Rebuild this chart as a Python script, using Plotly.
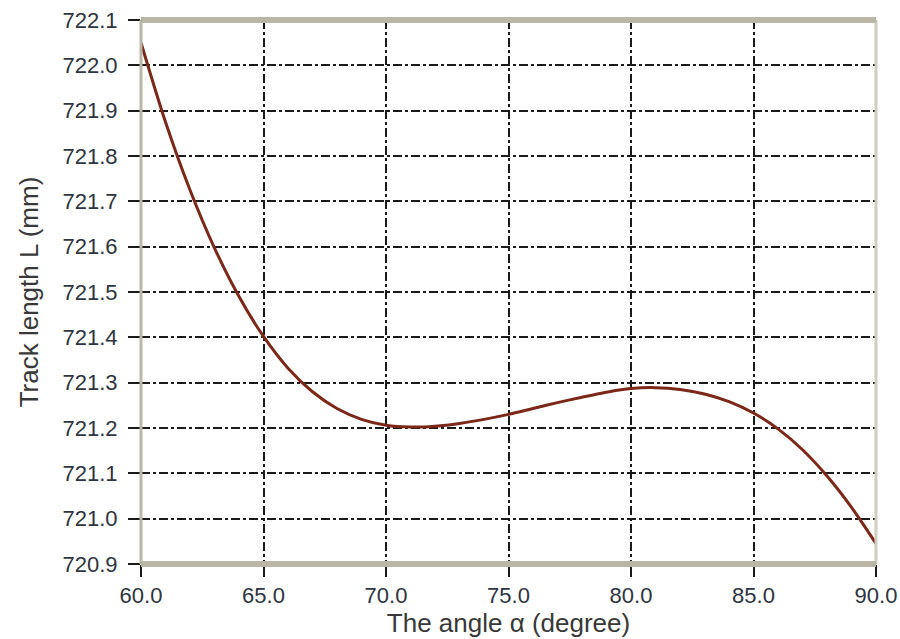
import plotly.graph_objects as go

angle = [60, 61, 62, 63, 64, 65, 66, 67, 68, 69, 70, 71, 72, 73, 74, 75,
         76, 77, 78, 79, 80, 81, 82, 83, 84, 85, 86, 87, 88, 89, 90]
track_length = [722.05, 721.875, 721.725, 721.597, 721.49, 721.402, 721.332, 721.28,
                721.243, 721.219, 721.206, 721.202, 721.204, 721.21, 721.219, 721.23,
                721.243, 721.256, 721.268, 721.279, 721.287, 721.289, 721.285, 721.275,
                721.258, 721.233, 721.198, 721.152, 721.094, 721.025, 720.945]

x_ticks = [60, 65, 70, 75, 80, 85, 90]
y_ticks = [720.9, 721.0, 721.1, 721.2, 721.3, 721.4, 721.5, 721.6, 721.7, 721.8, 721.9, 722.0, 722.1]

fig = go.Figure()
fig.add_trace(go.Scatter(x=angle, y=track_length, mode="lines",
                         line=dict(color="#7b2818", width=3, shape="spline", smoothing=0.8),
                         showlegend=False))

font_family = "Liberation Sans, Arial, sans-serif"
tick_color = "#2e3440"
fig.update_layout(
    width=900, height=639,
    margin=dict(l=141, r=24, t=20, b=75),
    paper_bgcolor="white", plot_bgcolor="white",
    font=dict(family=font_family, color="#333333"),
    xaxis=dict(range=[60, 90], tickvals=x_ticks,
               ticktext=[f"{v:.1f}" for v in x_ticks],
               showgrid=True, gridcolor="#1a1a1a", gridwidth=1.5, griddash="dashdot",
               ticks="outside", ticklen=12, tickcolor="#1a1a1a", tickwidth=2,
               zeroline=False, showline=False, automargin=False,
               tickfont=dict(size=22, color=tick_color),
               title=dict(text="The angle α (degree)", font=dict(size=26, color="#383838"), standoff=0)),
    yaxis=dict(range=[720.9, 722.1], tickvals=y_ticks,
               ticktext=[f"{v:.1f}" for v in y_ticks],
               showgrid=True, gridcolor="#1a1a1a", gridwidth=1.5, griddash="dashdot",
               ticks="outside", ticklen=12, tickcolor="#1a1a1a", tickwidth=2,
               ticklabelstandoff=6,
               zeroline=False, showline=False, automargin=False,
               tickfont=dict(size=22, color=tick_color),
               title=dict(text="Track length L (mm)", font=dict(size=26, color="#383838"), standoff=16)),
    shapes=[
        dict(type="line", xref="paper", yref="paper", x0=0, x1=0, y0=0, y1=1,
             line=dict(color="#b9b6a6", width=3)),
        dict(type="line", xref="paper", yref="paper", x0=1, x1=1, y0=0, y1=1,
             line=dict(color="#cfcdc0", width=3)),
        dict(type="line", xref="paper", yref="paper", x0=0, x1=1, y0=1, y1=1,
             line=dict(color="#b9b6a6", width=6)),
        dict(type="line", xref="paper", yref="paper", x0=0, x1=1, y0=0, y1=0,
             line=dict(color="#b9b6a6", width=6)),
    ],
)

fig.write_html("out.html", config={"displayModeBar": False},
               post_script="document.body.style.margin='0';document.body.style.overflow='hidden';")
